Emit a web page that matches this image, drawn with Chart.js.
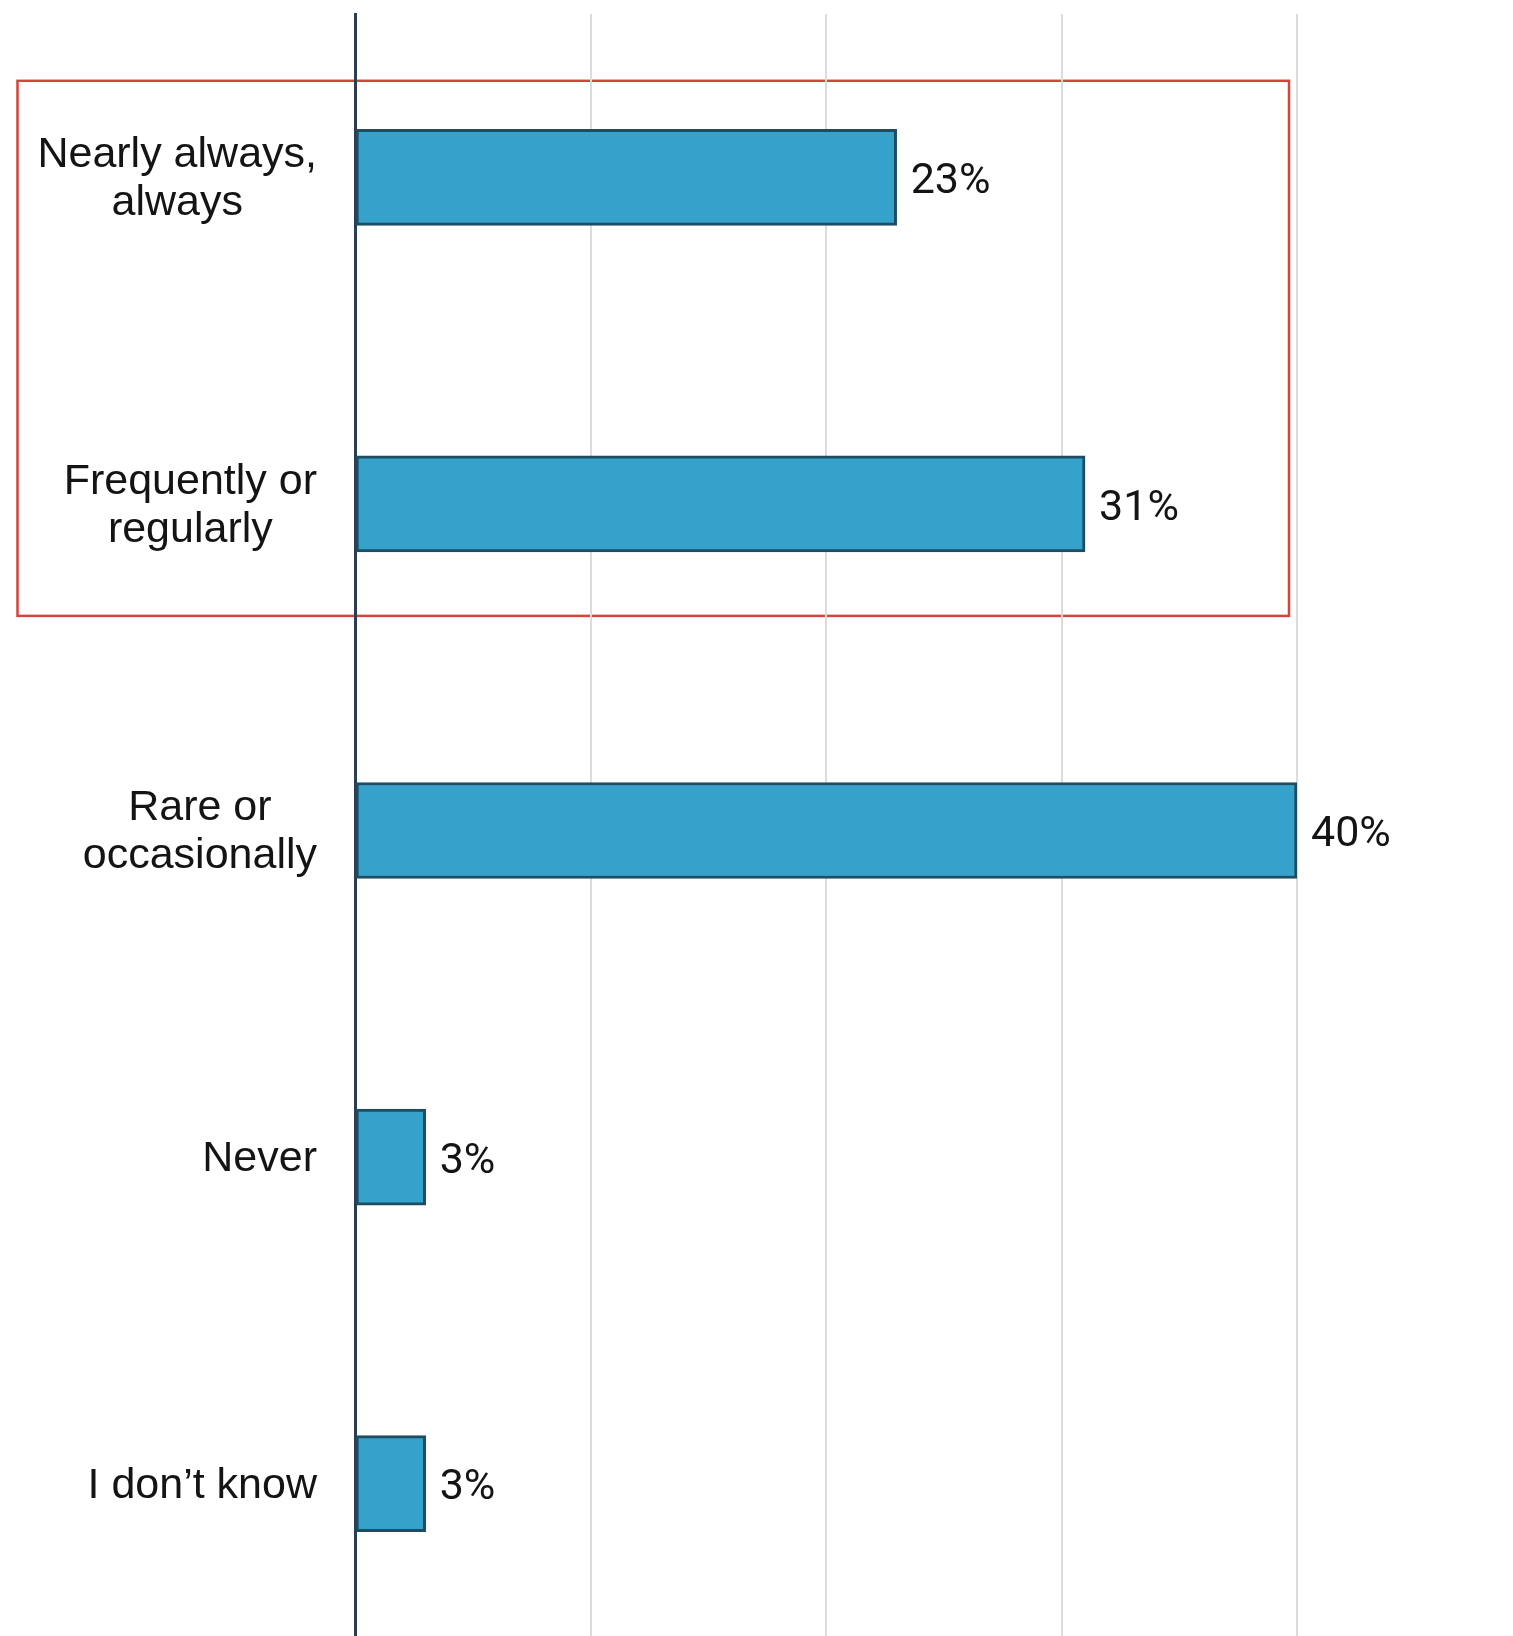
<!DOCTYPE html>
<html>
<head>
<meta charset="utf-8">
<title>Frequency of responses</title>
<script src="https://cdn.jsdelivr.net/npm/chart.js@4/dist/chart.umd.min.js"></script>
<style>
  html, body { margin: 0; padding: 0; background: #ffffff; overflow: hidden; }
  #wrap { position: relative; width: 1513px; height: 1647px; }
</style>
</head>
<body>
<div id="wrap"><canvas id="chart"></canvas></div>
<script>
// Response categories (one label line per array entry)
const categories = [
  ['Nearly always,', 'always'],
  ['Frequently or', 'regularly'],
  ['Rare or', 'occasionally'],
  ['Never'],
  ['I don\u2019t know']
];
// Share of respondents, in percent
const shares = [23, 31, 40, 3, 3];
// Value axis gridline positions
const gridTicks = [0, 10, 20, 30, 40];
// Categories grouped inside the highlight frame
const highlighted = [0, 1];

const LABEL_FONT = '"Liberation Sans", Arial, Helvetica, sans-serif';
const VALUE_FONT = 'Roboto, "Noto Sans", Arial, sans-serif';
const LABEL_SIZE = 43;
const VALUE_SIZE = 43;
const TEXT_COLOR = '#141414';

// Category labels: right-aligned block, lines centred within the block
const categoryLabels = {
  id: 'categoryLabels',
  afterDraw(chart) {
    const { ctx, scales: { y } } = chart;
    ctx.save();
    ctx.font = LABEL_SIZE + 'px ' + LABEL_FONT;
    ctx.fillStyle = TEXT_COLOR;
    ctx.textAlign = 'center';
    ctx.textBaseline = 'middle';
    const right = y.right - 38;
    const lineH = 48;
    categories.forEach((lines, i) => {
      const widest = Math.max(...lines.map(l => ctx.measureText(l).width));
      const cx = right - widest / 2;
      const cy = y.getPixelForValue(i);
      const top = cy - (lines.length - 1) * lineH / 2;
      lines.forEach((l, k) => ctx.fillText(l, cx, top + k * lineH + 2));
    });
    ctx.restore();
  }
};

// Value labels after the end of each bar
const valueLabels = {
  id: 'valueLabels',
  afterDatasetsDraw(chart) {
    const { ctx } = chart;
    const meta = chart.getDatasetMeta(0);
    ctx.save();
    ctx.font = VALUE_SIZE + 'px ' + VALUE_FONT;
    ctx.fillStyle = TEXT_COLOR;
    ctx.textAlign = 'left';
    ctx.textBaseline = 'middle';
    meta.data.forEach((bar, i) => {
      ctx.fillText(shares[i] + '%', bar.x + 14, bar.y + 5);
    });
    ctx.restore();
  }
};

// Frame around the highlighted group of categories
const highlightFrame = {
  id: 'highlightFrame',
  beforeDraw(chart) {
    const { ctx, scales: { x, y } } = chart;
    const first = Math.min(...highlighted);
    const last = Math.max(...highlighted);
    const top = y.getPixelForValue(first) - 96.5;
    const bottom = y.getPixelForValue(last) + 112;
    const left = 17.5;
    const right = x.getPixelForValue(gridTicks[gridTicks.length - 1]) - 8;
    ctx.save();
    ctx.strokeStyle = '#d4443a';
    ctx.lineWidth = 2.5;
    ctx.strokeRect(left, top, right - left, bottom - top);
    ctx.restore();
  }
};

new Chart(document.getElementById('chart'), {
  type: 'bar',
  data: {
    labels: categories,
    datasets: [{
      data: shares,
      backgroundColor: '#35a2cb',
      borderColor: '#1e4d63',
      borderWidth: 3,
      borderSkipped: false,
      barThickness: 96
    }]
  },
  options: {
    indexAxis: 'y',
    responsive: true,
    maintainAspectRatio: false,
    animation: false,
    layout: { padding: { top: 14, right: 216, bottom: 0, left: 0 } },
    plugins: {
      legend: { display: false },
      tooltip: { enabled: false }
    },
    scales: {
      x: {
        min: gridTicks[0],
        max: gridTicks[gridTicks.length - 1],
        afterBuildTicks(scale) { scale.ticks = gridTicks.map(v => ({ value: v })); },
        afterFit(scale) { scale.height = 0; },
        ticks: { display: false },
        border: { display: false },
        grid: { color: '#dcdcdc', lineWidth: 2, drawTicks: false }
      },
      y: {
        afterFit(scale) { scale.width = 355; },
        ticks: { display: false },
        border: { display: true, color: '#2b3d52', width: 3 },
        grid: { display: false, drawTicks: false }
      }
    }
  },
  plugins: [highlightFrame, categoryLabels, valueLabels]
});
</script>
</body>
</html>
